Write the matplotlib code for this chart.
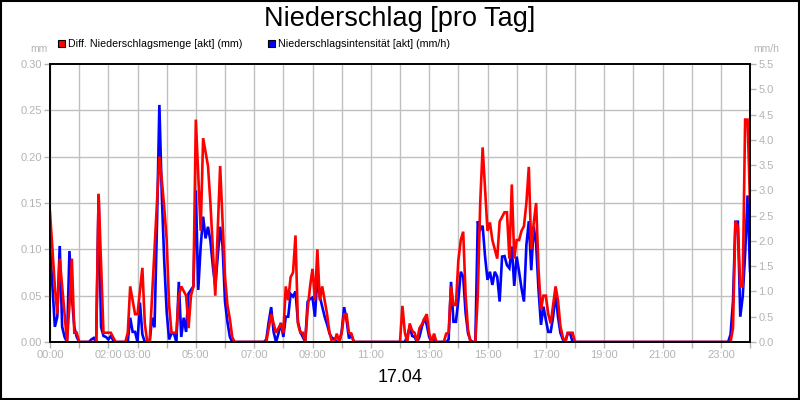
import numpy as np
import pandas as pd
import matplotlib
matplotlib.use('Agg')
import matplotlib.pyplot as plt
import matplotlib.dates as mdates
from matplotlib.patches import Rectangle
from matplotlib.ticker import FixedLocator, FuncFormatter

plt.rcParams['font.family'] = ['Liberation Sans', 'DejaVu Sans']

# 5-minute values, one row per hour (00:00 .. 23:55), plus the 24:00 value
red_mm_rows = [
    [0.14, 0.10, 0.06, 0.03, 0.09, 0.06, 0.03, 0.00, 0.04, 0.09, 0.01, 0.01],
    [0.00, 0.00, 0.00, 0.00, 0.00, 0.00, 0.00, 0.00, 0.16, 0.085, 0.01, 0.01],
    [0.01, 0.01, 0.005, 0.00, 0.00, 0.00, 0.00, 0.00, 0.01, 0.06, 0.045, 0.03],
    [0.03, 0.055, 0.08, 0.02, 0.00, 0.00, 0.05, 0.10, 0.15, 0.20, 0.175, 0.145],
    [0.11, 0.04, 0.01, 0.01, 0.01, 0.05, 0.06, 0.055, 0.05, 0.015, 0.05, 0.06],
    [0.24, 0.18, 0.12, 0.22, 0.205, 0.19, 0.15, 0.10, 0.05, 0.12, 0.19, 0.13],
    [0.07, 0.04, 0.025, 0.005, 0.00, 0.00, 0.00, 0.00, 0.00, 0.00, 0.00, 0.00],
    [0.00, 0.00, 0.00, 0.00, 0.00, 0.00, 0.015, 0.03, 0.02, 0.01, 0.015, 0.02],
    [0.01, 0.06, 0.045, 0.07, 0.075, 0.115, 0.02, 0.01, 0.01, 0.00, 0.035, 0.06],
    [0.079, 0.045, 0.10, 0.045, 0.06, 0.045, 0.03, 0.01, 0.00, 0.00, 0.009, 0.00],
    [0.01, 0.03, 0.03, 0.01, 0.009, 0.00, 0.00, 0.00, 0.00, 0.00, 0.00, 0.00],
    [0.00, 0.00, 0.00, 0.00, 0.00, 0.00, 0.00, 0.00, 0.00, 0.00, 0.00, 0.00],
    [0.00, 0.039, 0.01, 0.00, 0.02, 0.012, 0.01, 0.00, 0.015, 0.019, 0.025, 0.03],
    [0.01, 0.00, 0.009, 0.00, 0.00, 0.00, 0.00, 0.009, 0.01, 0.06, 0.04, 0.04],
    [0.088, 0.11, 0.119, 0.05, 0.013, 0.00, 0.00, 0.00, 0.05, 0.15, 0.21, 0.165],
    [0.12, 0.129, 0.11, 0.10, 0.09, 0.13, 0.135, 0.14, 0.14, 0.09, 0.17, 0.09],
    [0.11, 0.11, 0.12, 0.125, 0.15, 0.189, 0.10, 0.128, 0.15, 0.078, 0.035, 0.05],
    [0.05, 0.03, 0.02, 0.04, 0.06, 0.045, 0.017, 0.005, 0.00, 0.01, 0.01, 0.01],
    [0.00, 0.00, 0.00, 0.00, 0.00, 0.00, 0.00, 0.00, 0.00, 0.00, 0.00, 0.00],
    [0.00, 0.00, 0.00, 0.00, 0.00, 0.00, 0.00, 0.00, 0.00, 0.00, 0.00, 0.00],
    [0.00, 0.00, 0.00, 0.00, 0.00, 0.00, 0.00, 0.00, 0.00, 0.00, 0.00, 0.00],
    [0.00, 0.00, 0.00, 0.00, 0.00, 0.00, 0.00, 0.00, 0.00, 0.00, 0.00, 0.00],
    [0.00, 0.00, 0.00, 0.00, 0.00, 0.00, 0.00, 0.00, 0.00, 0.00, 0.00, 0.00],
    [0.00, 0.00, 0.00, 0.00, 0.00, 0.015, 0.13, 0.125, 0.06, 0.06, 0.24, 0.24],
]
red_mm_last = 0.15

blue_mmh_rows = [
    [1.9, 1.1, 0.3, 0.5, 1.9, 0.3, 0.1, 0.0, 1.8, 0.9, 0.3, 0.1],
    [0.0, 0.0, 0.0, 0.0, 0.0, 0.05, 0.08, 0.0, 2.92, 0.3, 0.12, 0.1],
    [0.05, 0.12, 0.03, 0.0, 0.0, 0.0, 0.0, 0.0, 0.0, 0.48, 0.2, 0.2],
    [0.0, 0.78, 0.15, 0.0, 0.0, 0.0, 0.48, 0.29, 2.3, 4.69, 2.9, 1.6],
    [0.6, 0.05, 0.17, 0.17, 0.0, 1.19, 0.1, 0.48, 0.2, 0.96, 1.03, 1.1],
    [3.0, 1.03, 1.9, 2.48, 2.05, 2.28, 2.0, 1.5, 1.1, 1.7, 2.28, 1.9],
    [0.8, 0.4, 0.1, 0.0, 0.0, 0.0, 0.0, 0.0, 0.0, 0.0, 0.0, 0.0],
    [0.0, 0.0, 0.0, 0.0, 0.0, 0.05, 0.4, 0.69, 0.2, 0.0, 0.17, 0.38],
    [0.1, 0.5, 0.5, 0.95, 0.9, 1.0, 0.4, 0.2, 0.1, 0.0, 0.8, 0.85],
    [0.88, 0.5, 1.29, 0.9, 0.7, 0.5, 0.35, 0.17, 0.08, 0.06, 0.0, 0.0],
    [0.2, 0.69, 0.44, 0.07, 0.14, 0.0, 0.0, 0.0, 0.0, 0.0, 0.0, 0.0],
    [0.0, 0.0, 0.0, 0.0, 0.0, 0.0, 0.0, 0.0, 0.0, 0.0, 0.0, 0.0],
    [0.0, 0.0, 0.0, 0.12, 0.3, 0.12, 0.1, 0.0, 0.1, 0.3, 0.47, 0.34],
    [0.1, 0.0, 0.07, 0.0, 0.0, 0.0, 0.0, 0.0, 0.05, 1.19, 0.4, 0.4],
    [0.83, 1.39, 1.29, 0.57, 0.17, 0.03, 0.0, 0.0, 2.39, 2.22, 2.3, 1.69],
    [1.23, 1.39, 1.13, 1.39, 1.29, 0.8, 1.69, 1.7, 1.52, 1.46, 1.89, 1.11],
    [1.69, 1.39, 1.06, 0.8, 1.92, 2.39, 1.42, 2.28, 1.95, 1.03, 0.34, 0.7],
    [0.44, 0.2, 0.2, 0.5, 0.95, 0.5, 0.18, 0.05, 0.0, 0.17, 0.17, 0.0],
    [0.0, 0.0, 0.0, 0.0, 0.0, 0.0, 0.0, 0.0, 0.0, 0.0, 0.0, 0.0],
    [0.0, 0.0, 0.0, 0.0, 0.0, 0.0, 0.0, 0.0, 0.0, 0.0, 0.0, 0.0],
    [0.0, 0.0, 0.0, 0.0, 0.0, 0.0, 0.0, 0.0, 0.0, 0.0, 0.0, 0.0],
    [0.0, 0.0, 0.0, 0.0, 0.0, 0.0, 0.0, 0.0, 0.0, 0.0, 0.0, 0.0],
    [0.0, 0.0, 0.0, 0.0, 0.0, 0.0, 0.0, 0.0, 0.0, 0.0, 0.0, 0.0],
    [0.0, 0.0, 0.0, 0.0, 0.15, 0.8, 2.38, 2.38, 0.5, 0.9, 1.75, 2.9],
]
blue_mmh_last = 1.4

left_ticks = [0.00, 0.05, 0.10, 0.15, 0.20, 0.25, 0.30]
right_ticks = [0.0, 0.5, 1.0, 1.5, 2.0, 2.5, 3.0, 3.5, 4.0, 4.5, 5.0, 5.5]
labelled_hours = [0, 2, 3, 5, 7, 9, 11, 13, 15, 17, 19, 21, 23]

red_label = 'Diff. Niederschlagsmenge [akt] (mm)'
blue_label = 'Niederschlagsintensität [akt] (mm/h)'

red_mm = [v for row in red_mm_rows for v in row] + [red_mm_last]
blue_mmh = [v for row in blue_mmh_rows for v in row] + [blue_mmh_last]
times = pd.date_range('2000-04-17 00:00', periods=len(red_mm), freq='5min')

GRAY = '#b4b4b4'
GRID = '#c0c0c0'

fig = plt.figure(figsize=(8, 4), dpi=100, facecolor='white')
ax_b = fig.add_axes([0.0625, 0.145, 0.875, 0.695])
ax_r = ax_b.twinx()

# blue series sits in the lower axes (right scale), red on top (left scale)
ax_b.yaxis.tick_right()
ax_r.yaxis.tick_left()

ax_b.plot(times, blue_mmh, color='#0000ff', lw=1.9, solid_joinstyle='miter')
ax_r.plot(times, red_mm, color='#ff0000', lw=1.9, solid_joinstyle='miter')

ax_b.set_xlim(times[0], times[-1])
ax_b.set_ylim(0, 5.5)
ax_r.set_ylim(0, 0.30)

ax_b.xaxis.set_major_locator(mdates.HourLocator(interval=1))
ax_b.xaxis.set_major_formatter(FuncFormatter(
    lambda x, pos: mdates.num2date(x).strftime('%H:%M')
    if mdates.num2date(x).hour in labelled_hours and mdates.num2date(x).day == 17 else ''))

ax_b.set_yticks(right_ticks)
ax_b.yaxis.set_major_formatter(FuncFormatter(lambda v, pos: f'{v:.1f}'))
ax_r.set_yticks(left_ticks)
ax_r.yaxis.set_major_formatter(FuncFormatter(lambda v, pos: f'{v:.2f}'))

# horizontal grid follows the left (mm) ticks
ax_b.yaxis.set_minor_locator(FixedLocator([t * 5.5 / 0.30 for t in left_ticks]))
ax_b.grid(True, axis='x', which='major', color=GRID, lw=1)
ax_b.grid(True, axis='y', which='minor', color=GRID, lw=1)
ax_b.grid(False, axis='y', which='major')
ax_b.tick_params(axis='y', which='minor', length=0)

for a in (ax_b, ax_r):
    a.tick_params(which='major', colors=GRAY, labelcolor=GRAY, labelsize=8,
                  length=4, width=1, direction='out', pad=2)
    for s in a.spines.values():
        s.set_color('black')
        s.set_linewidth(1.2)

fig.text(0.5, 0.952, 'Niederschlag [pro Tag]', ha='center', va='center',
         fontsize=19.5, color='black')
fig.text(0.5, 0.055, '17.04', ha='center', va='center', fontsize=13, color='black')
fig.text(48 / 800, 1 - 49 / 400, 'mm', ha='right', va='center', fontsize=7.5, color=GRAY)
fig.text(753 / 800, 1 - 49 / 400, 'mm/h', ha='left', va='center', fontsize=7.5, color=GRAY)

# legend boxes
for x0, col, lab in [(58, '#ff0000', red_label), (268, '#0000ff', blue_label)]:
    fig.patches.append(Rectangle((x0 / 800, 1 - 47 / 400), 7 / 800, 7 / 400,
                                 transform=fig.transFigure, facecolor=col,
                                 edgecolor='black', lw=0.8))
    fig.text((x0 + 10) / 800, 1 - 44 / 400, lab, ha='left', va='center',
             fontsize=7.7, color='black')

# frame around the whole picture
fig.patches.append(Rectangle((0.001, 0.002), 0.998, 0.996, transform=fig.transFigure,
                             fill=False, edgecolor='black', lw=1.5))

fig.savefig('out.png', dpi=100, facecolor='white')
